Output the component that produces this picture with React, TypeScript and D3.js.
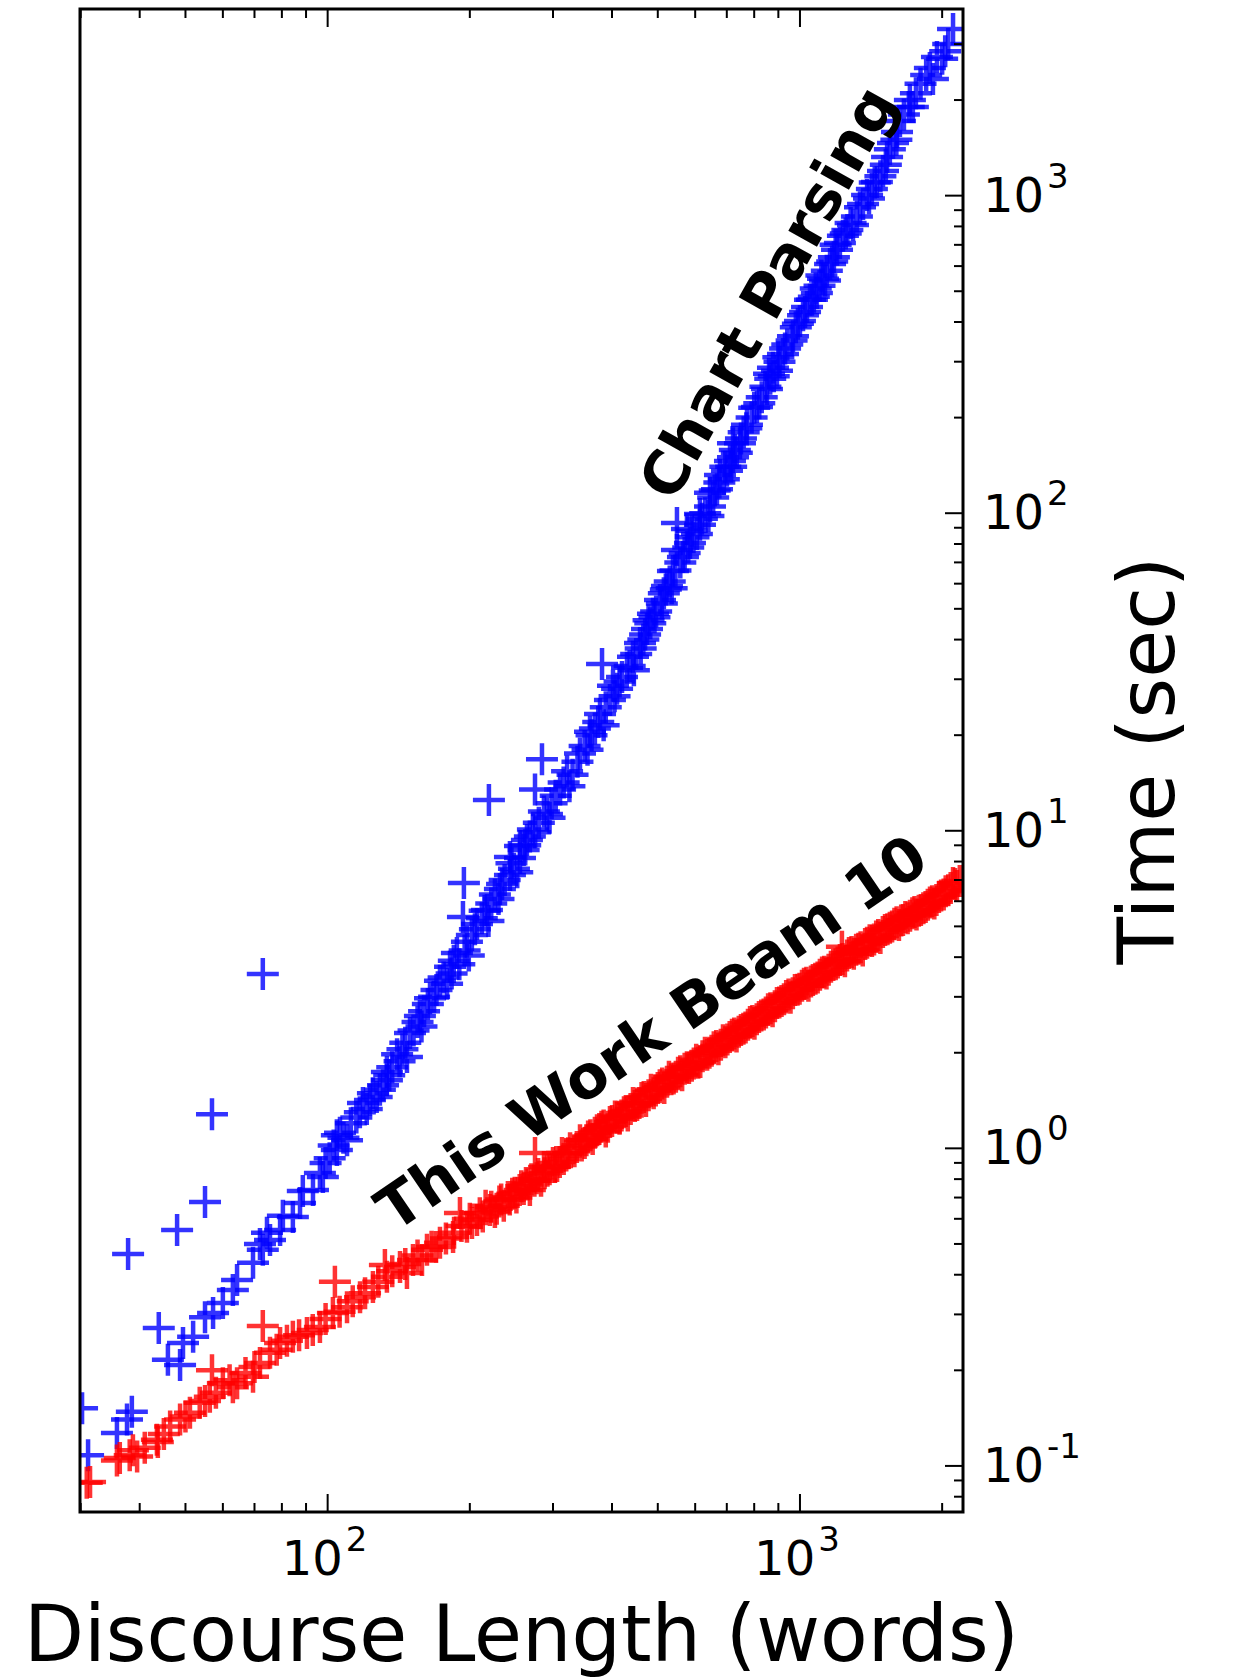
import React, { useEffect, useRef } from 'react';
import * as d3 from 'd3';

// Chart Parsing (blue) — discourse length in words, time in seconds
const chartWords = [
  30.2, 31.1, 35.8, 37.6, 38.5, 43.9, 37.8, 48.0, 55.0, 56.9, 72.9, 45.9, 48.7, 49.4, 51.9,
  55.0, 57.2, 60.0, 63.0, 64.3, 69.5, 71.9, 72.9, 74.4, 75.5, 79.3, 80.4, 84.4, 87.4, 88.6,
  93.1, 96.3, 97.7, 104.6, 106.2, 109.9, 104.6, 118.8, 122.9, 124.7, 129.0, 133.5, 133.5, 140.3, 147.2,
  149.4, 156.8, 164.7, 172.9, 181.6, 187.8, 193.4, 194.3, 197.2, 207.1, 217.4, 219.5, 231.6, 243.2, 243.2,
  255.4, 255.4, 264.2, 272.0, 274.8, 284.3, 291.3, 310.5, 321.3, 342.2, 359.3, 377.3, 381.0, 396.0, 401.9,
  430.3, 443.1, 458.5, 474.4, 488.4, 505.4, 522.9, 538.4, 549.0, 549.0, 565.3, 576.4, 584.9, 614.2, 614.2,
  644.9, 644.9, 667.3, 677.1, 700.6, 710.9, 721.4, 721.4, 746.4, 772.3, 810.9, 851.4, 876.7, 894.0, 920.5,
  966.5, 1000, 1035, 1050, 1086, 1119, 1158, 1198, 1233, 1295, 1360, 1387, 1455, 1499, 1529,
  1574, 1605, 1628, 1709, 1734, 1884, 1912, 1950, 2109,
  101, 112, 115, 127, 137, 144, 152, 160, 168, 176, 185, 190, 202, 212, 222,
  226, 237, 248, 260, 268, 280, 298, 304, 330, 350, 368, 388, 410, 420, 450,
  466, 482, 496, 515, 530, 558, 595, 630, 655, 690, 735, 760, 790, 830, 865,
  905, 940, 980, 1015, 1070, 1100, 1140, 1180, 1215, 1260, 1320, 1420, 1480, 1550, 1660,
  1800, 2000, 2060,
  99, 103, 108, 117, 121, 131, 135, 142, 146, 155, 158, 163, 170, 179, 183,
  195, 199, 205, 215, 219, 230, 234, 245, 252, 262, 275, 287, 295, 316, 325,
  338, 355, 362, 374, 384, 405, 415, 436, 445, 460, 470, 478, 492, 510, 520,
  535, 545, 570, 580, 590, 605, 620, 640, 660, 675, 695, 715, 728, 750, 770,
  800, 820, 845, 860, 880, 900, 930, 960, 990, 1025, 1060, 1080, 1110, 1130, 1170,
  1190, 1250, 1280, 1340, 1400, 1440, 1520, 1600, 1700, 1760, 1850, 2030,
];
const chartSecs = [
  0.152, 0.108, 0.127, 0.140, 0.148, 0.272, 0.465, 0.553, 0.678, 1.28, 3.54, 0.216, 0.208, 0.244, 0.255,
  0.294, 0.303, 0.326, 0.358, 0.385, 0.436, 0.500, 0.479, 0.542, 0.515, 0.553, 0.613, 0.608, 0.673, 0.734,
  0.740, 0.837, 0.813, 1.10, 1.12, 1.06, 0.988, 1.39, 1.42, 1.49, 1.53, 1.74, 1.64, 1.98, 1.94,
  2.31, 2.61, 2.97, 3.37, 3.73, 4.12, 5.35, 6.85, 4.47, 5.09, 5.63, 12.5, 6.56, 7.26, 8.27,
  8.21, 8.96, 9.36, 10.1, 13.5, 16.8, 11.3, 13.5, 15.4, 17.5, 20.5, 23.3, 33.5, 25.8, 28.6,
  32.6, 35.3, 39.0, 43.2, 48.2, 53.3, 59.0, 65.8, 76.6, 93.2, 72.8, 89.2, 80.6, 91.9, 99.5,
  105, 116, 119, 132, 136, 146, 150, 166, 166, 190, 216, 246, 287, 281, 317,
  361, 403, 446, 470, 494, 547, 609, 675, 747, 808, 942, 1005, 1104, 1196, 1324,
  1466, 1587, 1719, 2001, 1902, 2525, 2330, 2734, 3349,
  0.93, 1.20, 1.25, 1.45, 1.80, 2.05, 2.35, 2.70, 3.00, 3.45, 3.90, 3.80, 4.70, 5.30, 5.90,
  6.30, 7.00, 7.60, 8.70, 9.60, 10.6, 12.2, 12.9, 15.0, 18.5, 21.0, 24.5, 28.0, 30.5, 36.0,
  40.0, 45.0, 49.0, 56.0, 61.0, 70.0, 84.0, 100, 112, 128, 155, 180, 200, 232, 265,
  300, 340, 385, 420, 480, 520, 580, 640, 710, 780, 860, 1050, 1150, 1400, 1800,
  2250, 2700, 3000,
  0.90, 1.02, 1.08, 1.30, 1.33, 1.58, 1.70, 1.88, 2.15, 2.50, 2.42, 2.85, 3.15, 3.30, 3.55,
  4.20, 4.05, 4.90, 5.60, 5.20, 6.10, 6.80, 7.90, 7.40, 9.00, 9.90, 11.5, 11.0, 14.2, 13.8,
  16.5, 18.0, 20.0, 22.0, 21.5, 26.5, 29.5, 33.0, 32.0, 37.5, 41.5, 46.0, 47.0, 52.0, 57.5,
  58.0, 66.0, 75.0, 78.0, 88.0, 86.0, 96.0, 98.0, 118, 125, 140, 140, 158, 172, 185,
  215, 222, 250, 275, 270, 310, 330, 350, 395, 430, 470, 510, 560, 540, 620,
  700, 760, 820, 920, 980, 1100, 1250, 1500, 1900, 2100, 2400, 2850,
];

// This Work Beam 10 (red)
const beamWords = [
  30.9, 31.4, 35.8, 36.3, 38.1, 38.7, 39.5, 43.5, 43.7, 46.4, 48.7, 51.1, 53.6, 56.3, 56.9,
  60.0, 63.0, 64.3, 69.5, 71.9, 72.9, 75.5, 79.3, 84.4, 90.4, 96.3, 102.6, 103.6, 109.9, 117.1,
  124.7, 132.2, 133.5, 142.3, 147.2, 151.6, 158.4, 162.3, 169.6, 172.9, 184.3, 185.2, 190.6, 197.2, 202.1,
  207.1, 220.6, 240.8, 263.0, 274.8, 287.1, 313.5, 342.2, 371.8, 405.9, 443.1, 483.7, 528.0, 576.4, 629.3,
  687.1, 750.0, 818.9, 894.0, 975.9, 1065, 1163, 1227, 1270, 1387, 1514, 1652, 1803, 1969, 2109,
  213, 216, 226, 231, 236, 246, 251, 257, 268, 270, 279, 283, 295, 300, 306,
  320, 326, 333, 350, 356, 364, 380, 388, 396, 415, 424, 432, 452, 462, 472,
  495, 505, 516, 540, 552, 563, 590, 603, 615, 643, 657, 672, 702, 718, 734,
  767, 784, 801, 838, 856, 875, 914, 935, 955, 998, 1020, 1042, 1090, 1114, 1138,
  1190, 1215, 1245, 1300, 1330, 1358, 1420, 1450, 1480, 1550, 1585, 1620, 1690, 1730, 1765,
  1845, 1885, 1925, 2015, 2060, 2150, 2180,
  41, 45, 50, 55, 58, 62, 67, 70, 78, 82, 87, 93, 99, 106, 113,
  120, 128, 137, 146, 155, 166, 178, 192, 200,
  210, 222, 228, 233, 243, 249, 255, 260, 265, 274, 277, 288, 292, 303, 310,
  316, 323, 337, 345, 353, 360, 368, 376, 384, 392, 400, 410, 419, 428, 438,
  447, 457, 467, 478, 490, 500, 511, 523, 534, 546, 558, 570, 582, 596, 609,
  622, 636, 650, 665, 680, 695, 710, 726, 742, 759, 776, 793, 810, 828, 847,
  866, 885, 904, 925, 946, 966, 988, 1010, 1032, 1055, 1078, 1102, 1126, 1150, 1176,
  1202, 1230, 1258, 1286, 1315, 1344, 1374, 1405, 1435, 1465, 1498, 1532, 1567, 1602, 1638,
  1672, 1710, 1748, 1785, 1825, 1865, 1905, 1945, 1990, 2035, 2085, 2130,
];
const beamSecs = [
  0.0885, 0.089, 0.104, 0.106, 0.108, 0.112, 0.107, 0.121, 0.119, 0.133, 0.140, 0.147, 0.158, 0.165, 0.200,
  0.182, 0.177, 0.182, 0.191, 0.211, 0.276, 0.227, 0.244, 0.255, 0.262, 0.274, 0.303, 0.380, 0.316, 0.340,
  0.366, 0.429, 0.394, 0.423, 0.405, 0.445, 0.445, 0.479, 0.489, 0.504, 0.526, 0.542, 0.626, 0.566, 0.582,
  0.595, 0.640, 0.703, 0.778, 0.967, 0.874, 0.967, 1.06, 1.14, 1.26, 1.39, 1.53, 1.68, 1.80, 2.00,
  2.19, 2.36, 2.59, 2.87, 3.15, 3.39, 3.73, 4.31, 4.12, 4.44, 4.87, 5.24, 5.63, 6.19, 6.85,
  0.61, 0.66, 0.63, 0.68, 0.66, 0.72, 0.70, 0.76, 0.74, 0.80, 0.83, 0.79, 0.86, 0.90, 0.88,
  0.95, 1.00, 0.98, 1.04, 1.09, 1.07, 1.17, 1.13, 1.21, 1.24, 1.30, 1.27, 1.37, 1.44, 1.41,
  1.52, 1.58, 1.55, 1.66, 1.73, 1.70, 1.82, 1.90, 1.87, 2.00, 2.08, 2.05, 2.20, 2.28, 2.25,
  2.40, 2.50, 2.47, 2.64, 2.74, 2.70, 2.91, 3.02, 2.98, 3.18, 3.30, 3.25, 3.45, 3.58, 3.55,
  3.80, 3.92, 3.88, 4.10, 4.25, 4.20, 4.50, 4.65, 4.60, 4.95, 5.10, 5.05, 5.30, 5.50, 5.45,
  5.75, 5.95, 5.90, 6.30, 6.50, 6.70, 6.95,
  0.114, 0.126, 0.143, 0.160, 0.170, 0.186, 0.196, 0.205, 0.232, 0.248, 0.258, 0.268, 0.290, 0.306, 0.330,
  0.350, 0.380, 0.410, 0.432, 0.460, 0.490, 0.520, 0.570, 0.600,
  0.625, 0.655, 0.645, 0.690, 0.690, 0.725, 0.740, 0.745, 0.770, 0.790, 0.805, 0.835, 0.850, 0.875, 0.905,
  0.925, 0.965, 1.01, 1.02, 1.06, 1.10, 1.12, 1.15, 1.18, 1.17, 1.22, 1.25, 1.27, 1.31, 1.33,
  1.36, 1.39, 1.45, 1.47, 1.49, 1.55, 1.60, 1.62, 1.65, 1.68, 1.75, 1.78, 1.79, 1.85, 1.86,
  1.95, 1.97, 2.03, 2.10, 2.12, 2.16, 2.24, 2.30, 2.33, 2.38, 2.45, 2.52, 2.55, 2.62, 2.68,
  2.76, 2.80, 2.88, 2.95, 3.05, 3.08, 3.16, 3.25, 3.32, 3.35, 3.42, 3.52, 3.60, 3.65, 3.78,
  3.85, 3.95, 4.05, 4.15, 4.22, 4.30, 4.40, 4.52, 4.55, 4.70, 4.80, 4.90, 5.00, 5.15, 5.22,
  5.35, 5.40, 5.55, 5.60, 5.70, 5.85, 6.00, 6.05, 6.25, 6.45, 6.60, 6.80,
];

const xMajorTicks = [100, 1000];
const yMajorTicks = [0.1, 1, 10, 100, 1000];

const FONT = '"DejaVu Sans", sans-serif';

export default function App() {
  const ref = useRef<SVGSVGElement>(null);

  useEffect(() => {
    const svg = d3.select(ref.current);
    svg.selectAll('*').remove();

    const left = 80, right = 963, top = 9, bottom = 1512;

    const x = d3.scaleLog().domain([29.9, 2214]).range([left, right]);
    const y = d3.scaleLog().domain([0.0716, 3870]).range([bottom, top]);

    svg.append('defs').append('clipPath').attr('id', 'plotArea')
      .append('rect')
      .attr('x', left).attr('y', top)
      .attr('width', right - left).attr('height', bottom - top);

    const plot = svg.append('g').attr('clip-path', 'url(#plotArea)');

    const arm = 16;
    const drawSeries = (xs, ys, color) => {
      const pts = xs.map((w, i) => [x(w), y(ys[i])]);
      plot.append('g')
        .selectAll('path')
        .data(pts)
        .join('path')
        .attr('d', d => `M${d[0] - arm},${d[1]}h${2 * arm}M${d[0]},${d[1] - arm}v${2 * arm}`)
        .attr('fill', 'none')
        .attr('stroke', color)
        .attr('stroke-width', 4.5)
        .attr('stroke-opacity', 0.8);
    };

    drawSeries(chartWords, chartSecs, '#0000ff');
    drawSeries(beamWords, beamSecs, '#ff0000');

    const isMajor = t => Math.abs(Math.log10(t) - Math.round(Math.log10(t))) < 1e-6;

    // x ticks, bottom and top, pointing inward
    const ticks = svg.append('g').attr('stroke', '#000').attr('stroke-width', 2);
    x.ticks().forEach(t => {
      const len = isMajor(t) ? 18 : 9;
      const px = x(t);
      ticks.append('line').attr('x1', px).attr('x2', px).attr('y1', bottom).attr('y2', bottom - len);
      ticks.append('line').attr('x1', px).attr('x2', px).attr('y1', top).attr('y2', top + len);
    });
    // y ticks on the right only
    y.ticks().forEach(t => {
      const len = isMajor(t) ? 18 : 9;
      const py = y(t);
      ticks.append('line').attr('x1', right).attr('x2', right - len).attr('y1', py).attr('y2', py);
    });

    svg.append('rect')
      .attr('x', left).attr('y', top)
      .attr('width', right - left).attr('height', bottom - top)
      .attr('fill', 'none').attr('stroke', '#000').attr('stroke-width', 3);

    const labels = svg.append('g').attr('font-family', FONT).attr('fill', '#000');

    xMajorTicks.forEach(t => {
      const txt = labels.append('text')
        .attr('x', x(t) - 3).attr('y', 1575)
        .attr('text-anchor', 'middle')
        .attr('font-size', 48);
      txt.append('tspan').text('10');
      txt.append('tspan').attr('dx', 3).attr('dy', -24).attr('font-size', 34).text(String(Math.round(Math.log10(t))));
    });

    yMajorTicks.forEach(t => {
      const txt = labels.append('text')
        .attr('x', 983).attr('y', y(t) + 16)
        .attr('text-anchor', 'start')
        .attr('font-size', 48);
      txt.append('tspan').text('10');
      txt.append('tspan').attr('dx', 3).attr('dy', -24).attr('font-size', 34).text(String(Math.round(Math.log10(t))));
    });

    labels.append('text')
      .attr('x', (left + right) / 2).attr('y', 1661)
      .attr('text-anchor', 'middle')
      .attr('font-size', 78)
      .text('Discourse Length (words)');

    labels.append('text')
      .attr('transform', `translate(1174, ${(top + bottom) / 2}) rotate(-90)`)
      .attr('text-anchor', 'middle')
      .attr('font-size', 78)
      .text('Time (sec)');

    labels.append('text')
      .attr('transform', 'translate(767, 292) rotate(-60.8)')
      .attr('text-anchor', 'middle')
      .attr('dy', '0.36em')
      .attr('font-size', 60)
      .attr('font-weight', 'bold')
      .text('Chart Parsing');

    labels.append('text')
      .attr('transform', 'translate(651, 1032) rotate(-34.3)')
      .attr('text-anchor', 'middle')
      .attr('dy', '0.36em')
      .attr('font-size', 60)
      .attr('font-weight', 'bold')
      .text('This Work Beam 10');
  }, []);

  return (
    <svg
      ref={ref}
      width={1240}
      height={1680}
      style={{ position: 'absolute', left: 0, top: 0, background: '#fff' }}
    />
  );
}
